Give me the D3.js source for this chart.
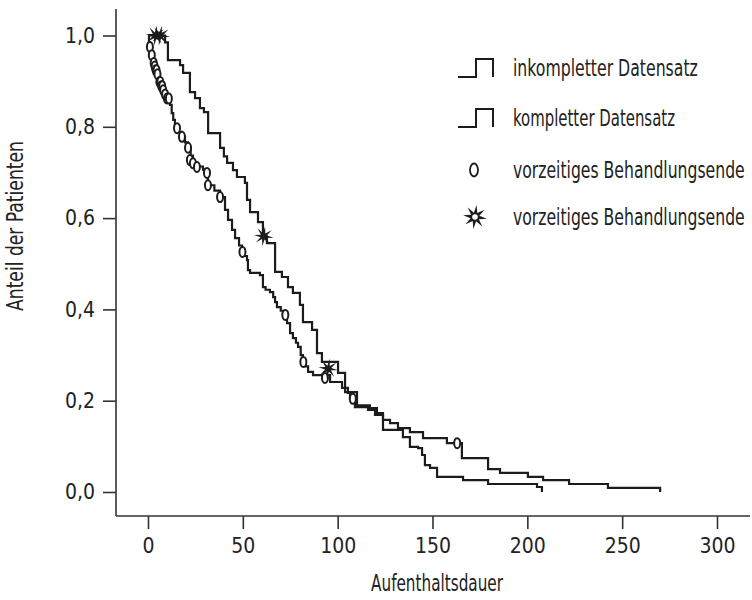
<!DOCTYPE html>
<html>
<head>
<meta charset="utf-8">
<script src="https://cdn.jsdelivr.net/npm/d3@7/dist/d3.min.js"></script>
<style>
  html, body { margin: 0; padding: 0; background: #fff; }
  svg text { font-family: "DejaVu Sans Condensed", "Liberation Sans Narrow", sans-serif; fill: #222; }
</style>
</head>
<body>
<svg id="chart" width="752" height="600"></svg>
<script>
// ---- data ----
const xTicks = [0, 50, 100, 150, 200, 250, 300];
const yTicks = [0, 0.2, 0.4, 0.6, 0.8, 1.0];
const xLabel = "Aufenthaltsdauer";
const yLabel = "Anteil der Patienten";
const legendLabels = ["inkompletter Datensatz", "kompletter Datensatz", "vorzeitiges Behandlungsende", "vorzeitiges Behandlungsende"];

// inkompletter Datensatz (step curve with ◊ censor marks)
const incTimes = [0, 0.5, 1, 1.5, 2, 2.5, 3, 3.5, 4, 5, 5.5, 6, 7, 8, 9, 10, 11.6, 12.5, 13.3, 14.2, 16, 17.9, 19.5, 21.1, 22.5, 23.7, 26, 29, 31.1, 31.6, 35, 38, 40.6, 42.2, 44.3, 45.9, 48, 49.6, 51, 52.2, 52.7, 53.8, 59, 60.6, 62, 64.3, 66, 67, 68, 70, 72.2, 73.3, 74.9, 76.4, 78, 79.1, 80.5, 81.7, 83, 84.4, 87, 96, 102.3, 105.4, 106.5, 109.1, 116, 119.7, 123.9, 127.6, 131.8, 138.1, 145, 157.6, 165.5, 179.3, 185.6, 200.3, 208.3, 222, 242.5, 270];
const incSurv  = [1, 0.985, 0.975, 0.966, 0.957, 0.949, 0.94, 0.932, 0.924, 0.915, 0.906, 0.898, 0.889, 0.88, 0.871, 0.862, 0.848, 0.83, 0.815, 0.80, 0.789, 0.778, 0.766, 0.754, 0.737, 0.72, 0.713, 0.706, 0.699, 0.672, 0.66, 0.646, 0.618, 0.596, 0.574, 0.556, 0.54, 0.526, 0.517, 0.508, 0.486, 0.48, 0.475, 0.449, 0.443, 0.438, 0.427, 0.416, 0.405, 0.397, 0.388, 0.37, 0.348, 0.337, 0.327, 0.318, 0.30, 0.285, 0.275, 0.263, 0.256, 0.241, 0.228, 0.217, 0.204, 0.186, 0.18, 0.169, 0.158, 0.151, 0.14, 0.131, 0.118, 0.107, 0.074, 0.05, 0.042, 0.033, 0.026, 0.0175, 0.009, 0];
const incCensorT = [1, 2, 3, 3.5, 4, 4.5, 5, 6, 6.5, 7, 7.5, 8, 9, 10, 11, 15.3, 17.9, 21.1, 22.1, 23.7, 25.8, 31.1, 31.6, 38, 49.8, 72.4, 81.9, 93.3, 108, 163];
const incCensorS = [0.975, 0.957, 0.94, 0.932, 0.924, 0.924, 0.915, 0.898, 0.898, 0.889, 0.889, 0.88, 0.871, 0.862, 0.862, 0.797, 0.778, 0.754, 0.727, 0.72, 0.712, 0.699, 0.672, 0.646, 0.526, 0.388, 0.285, 0.25, 0.204, 0.107];

// kompletter Datensatz (step curve with ✸ censor marks)
const comTimes = [0, 9, 10.5, 16.9, 18.5, 22.1, 24.8, 27.4, 29.5, 31.7, 38, 40, 41.7, 44.8, 46.9, 51.1, 52.2, 53.8, 58, 60.6, 62.7, 67, 70.6, 73.8, 76.4, 80.1, 81.7, 86.5, 89.1, 91.7, 100.2, 103.9, 110.2, 117, 120.7, 123.9, 134.4, 138.1, 142.4, 144.5, 146, 148.7, 152.4, 166.1, 179.3, 205.1, 207.7];
const comSurv  = [1, 0.985, 0.946, 0.935, 0.918, 0.876, 0.863, 0.841, 0.832, 0.786, 0.754, 0.735, 0.721, 0.705, 0.69, 0.677, 0.64, 0.613, 0.591, 0.56, 0.545, 0.482, 0.471, 0.449, 0.436, 0.41, 0.372, 0.355, 0.304, 0.285, 0.261, 0.219, 0.19, 0.184, 0.173, 0.136, 0.12, 0.099, 0.096, 0.081, 0.059, 0.053, 0.033, 0.026, 0.0175, 0.011, 0];
const comCensorT = [4, 6.5, 61, 95];
const comCensorS = [1, 1, 0.56, 0.27];

// ---- layout ----
const svg = d3.select("#chart");
const x = d3.scaleLinear().domain([0, 300]).range([148, 717]);
const y = d3.scaleLinear().domain([0, 1]).range([492, 35.5]);
const axisColor = "#333";
const lineColor = "#1c1c1c";
const fontSize = 21;
const labelSize = 23;
const locale = d3.formatLocale({decimal: ",", thousands: ".", grouping: [3], currency: ["", " €"]});
const fmtY = locale.format(".1f");

// squeeze a text horizontally (about its anchor) to a target width, emulating a condensed face
function condense(sel, targetWidth, ax, ay, rot) {
  const node = sel.node();
  const w = node.getComputedTextLength();
  const s = Math.min(1, targetWidth / w);
  sel.attr("x", 0).attr("y", 0)
    .attr("transform", `translate(${ax},${ay})` + (rot ? ` rotate(${rot})` : "") + ` scale(${s},1)`);
}

// axis lines (offset, SPSS style)
svg.append("line").attr("x1", 116).attr("x2", 116).attr("y1", 9).attr("y2", 516)
  .attr("stroke", axisColor).attr("stroke-width", 1.6);
svg.append("line").attr("x1", 116).attr("x2", 750).attr("y1", 516).attr("y2", 516)
  .attr("stroke", axisColor).attr("stroke-width", 1.6);

// y axis
const yAxis = svg.append("g").attr("transform", "translate(116,0)")
  .call(d3.axisLeft(y).tickValues(yTicks).tickFormat(fmtY).tickSize(13).tickPadding(8).tickSizeOuter(0));
yAxis.select(".domain").remove();
yAxis.selectAll("line").attr("stroke", axisColor).attr("stroke-width", 1.6);
yAxis.selectAll("text").attr("font-size", fontSize).attr("fill", "#222")
  .style("font-family", "'DejaVu Sans Condensed',sans-serif");

// x axis
const xAxis = svg.append("g").attr("transform", "translate(0,516)")
  .call(d3.axisBottom(x).tickValues(xTicks).tickFormat(d3.format("d")).tickSize(13).tickPadding(9).tickSizeOuter(0));
xAxis.select(".domain").remove();
xAxis.selectAll("line").attr("stroke", axisColor).attr("stroke-width", 1.6);
xAxis.selectAll("text").attr("font-size", fontSize).attr("fill", "#222")
  .style("font-family", "'DejaVu Sans Condensed',sans-serif");

// axis titles
const xt = svg.append("text").attr("text-anchor", "middle").attr("font-size", labelSize).text(xLabel);
condense(xt, 132, 437, 591, 0);
const yt = svg.append("text").attr("text-anchor", "middle").attr("font-size", labelSize).text(yLabel);
condense(yt, 170, 23, 226, -90);

// curves
const step = d3.line().x(d => x(d[0])).y(d => y(d[1])).curve(d3.curveStepAfter);
const incData = incTimes.map((t, i) => [t, incSurv[i]]);
const comData = comTimes.map((t, i) => [t, comSurv[i]]);
svg.append("path").attr("d", step(comData)).attr("fill", "none").attr("stroke", lineColor).attr("stroke-width", 2.2);
svg.append("path").attr("d", step(incData)).attr("fill", "none").attr("stroke", lineColor).attr("stroke-width", 2.2);

// star shape generator (8-pointed)
function starPath(r1, r2, n) {
  const pts = [];
  for (let i = 0; i < 2 * n; i++) {
    const a = Math.PI * i / n - Math.PI / 2;
    const r = i % 2 === 0 ? r1 : r2;
    pts.push([Math.cos(a) * r, Math.sin(a) * r]);
  }
  return "M" + pts.map(p => p.join(",")).join("L") + "Z";
}

// censor marks
svg.append("g").selectAll("ellipse").data(incCensorT.map((t, i) => [t, incCensorS[i]])).join("ellipse")
  .attr("cx", d => x(d[0])).attr("cy", d => y(d[1])).attr("rx", 3).attr("ry", 5)
  .attr("fill", "#fff").attr("stroke", lineColor).attr("stroke-width", 2);
svg.append("g").selectAll("path").data(comCensorT.map((t, i) => [t, comCensorS[i]])).join("path")
  .attr("transform", d => `translate(${x(d[0])},${y(d[1])}) rotate(8)`)
  .attr("d", starPath(10, 3.2, 8)).attr("fill", lineColor);

// legend
const legX = 458, legTextX = 513;
const legRows = [68, 118, 170, 217];
const legWidths = [185, 162, 232, 232];
const leg = svg.append("g");
legRows.slice(0, 2).forEach((ry, i) => {
  leg.append("path")
    .attr("d", `M${legX},${ry + 9}H${legX + 18}V${ry - 9}H${legX + 35}V${ry + 9}`)
    .attr("fill", "none").attr("stroke", lineColor).attr("stroke-width", 2);
});
leg.append("ellipse").attr("cx", 474).attr("cy", legRows[2]).attr("rx", 4).attr("ry", 6.5)
  .attr("fill", "#fff").attr("stroke", lineColor).attr("stroke-width", 1.8);
leg.append("path").attr("transform", `translate(475,${legRows[3]}) rotate(8)`)
  .attr("d", starPath(12, 4.5, 8)).attr("fill", lineColor);
leg.append("circle").attr("cx", 475).attr("cy", legRows[3]).attr("r", 2.8).attr("fill", "#fff");
legendLabels.forEach((lbl, i) => {
  const t = leg.append("text").attr("dy", "0.35em").attr("font-size", labelSize).text(lbl);
  condense(t, legWidths[i], legTextX, legRows[i], 0);
});
</script>
</body>
</html>
